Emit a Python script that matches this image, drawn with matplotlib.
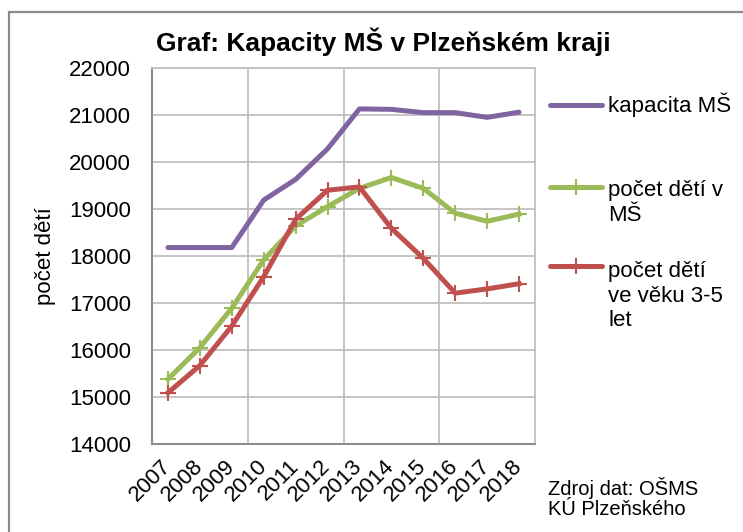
import matplotlib.pyplot as plt
from matplotlib.lines import Line2D
from matplotlib.patches import Rectangle

plt.rcParams['font.family'] = ['Liberation Sans', 'DejaVu Sans']

years = ['2007', '2008', '2009', '2010', '2011', '2012',
         '2013', '2014', '2015', '2016', '2017', '2018']
kapacita = [18180, 18180, 18180, 19190, 19630, 20280,
            21130, 21120, 21050, 21050, 20950, 21060]
deti_ms = [15380, 16050, 16890, 17920, 18640, 19050,
           19440, 19670, 19440, 18910, 18740, 18890]
deti_3_5 = [15090, 15670, 16510, 17560, 18780, 19400,
            19470, 18590, 17950, 17210, 17300, 17410]

labels = ['kapacita MŠ', 'počet dětí v\nMŠ', 'počet dětí\nve věku 3-5\nlet']
colors = ['#8064A2', '#9BBB59', '#C0504D']

W, H = 743, 532
fig = plt.figure(figsize=(W / 100, H / 100), dpi=100)
ax = fig.add_axes([152 / W, 1 - 444 / H, (535 - 152) / W, (444 - 68) / H])

x = list(range(len(years)))
ax.plot(x, kapacita, color=colors[0], lw=3.6, solid_capstyle='round', zorder=3)
ax.plot(x, deti_ms, color=colors[1], lw=3.6, marker='+', ms=12, mew=1.5, zorder=3)
ax.plot(x, deti_3_5, color=colors[2], lw=3.6, marker='+', ms=12, mew=1.5, zorder=4)

ax.set_xlim(-0.5, len(years) - 0.5)
ax.set_ylim(14000, 22000)
ax.set_yticks(range(14000, 22001, 1000))
ax.set_xticks(x)
ax.set_xticklabels(years, rotation=45, ha='right', va='center',
                   rotation_mode='anchor', fontsize=16)
ax.set_xticks([2.5, 5.5, 8.5], minor=True)
ax.tick_params(axis='y', labelsize=16, length=0, pad=15)
ax.tick_params(axis='x', which='both', length=0, pad=14)
ax.grid(axis='y', color='#c0c0c0', lw=1.3)
ax.grid(axis='x', which='minor', color='#c0c0c0', lw=1.3)
ax.set_axisbelow(True)
for s in ['top', 'right']:
    ax.spines[s].set_color('#c0c0c0')
    ax.spines[s].set_linewidth(1.3)
for s in ['left', 'bottom']:
    ax.spines[s].set_color('#8c8c8c')
    ax.spines[s].set_linewidth(1.5)

ax.set_ylabel('počet dětí', fontsize=16)
ax.yaxis.set_label_coords(-0.25, 0.5)

fig.text(383 / W, 1 - 42 / H, 'Graf: Kapacity MŠ v Plzeňském kraji',
         fontsize=19, fontweight='bold', ha='center', va='center')

# legend
leg_y = [105, 203, 296]
key_y = [105, 187, 266]
for lab, c, ty, ky, mk in zip(labels, colors, leg_y, key_y, [None, '+', '+']):
    fig.add_artist(Line2D([550 / W, 602 / W], [1 - ky / H, 1 - ky / H],
                          color=c, lw=3.6, solid_capstyle='round'))
    if mk:
        fig.add_artist(Line2D([576 / W], [1 - ky / H], color=c, marker=mk,
                              ms=12, mew=1.5, lw=0))
    fig.text(608 / W, 1 - ty / H, lab, fontsize=16, ha='left', va='center',
             linespacing=1.22)

fig.text(548 / W, 1 - 498 / H, 'Zdroj dat: OŠMS\nKÚ Plzeňského', fontsize=14.5,
         ha='left', va='center', linespacing=1.1)

fig.add_artist(Rectangle((9 / W, -0.1), 1.2, 1.1 - 12 / H, transform=fig.transFigure,
                         fill=False, edgecolor='#8a8a8a', lw=1.6))

fig.savefig('out.png', dpi=100)
